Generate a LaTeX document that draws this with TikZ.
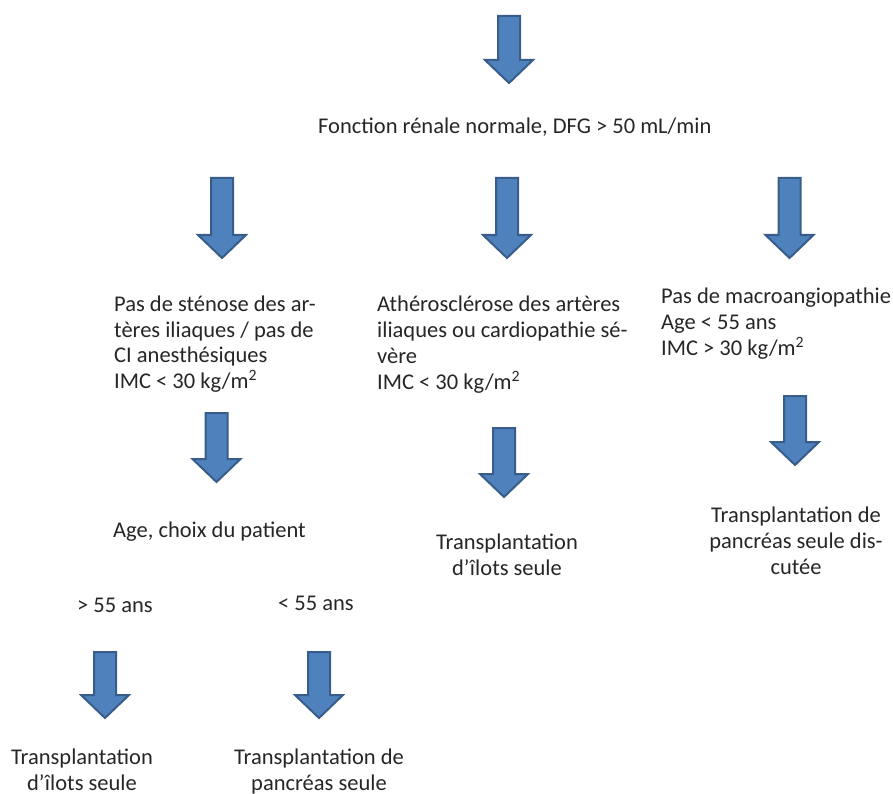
\documentclass[tikz,border=0pt]{standalone}
\usepackage{fontspec}
\setmainfont{Carlito}
\definecolor{arrowfill}{HTML}{4F81BD}
\definecolor{arrowline}{HTML}{385D8A}
\begin{document}
\begin{tikzpicture}[x=1pt,y=-1pt,
  txt/.style={inner sep=0pt,font=\fontsize{22.5}{25.7}\selectfont,text=black!85},
  blockarrow/.style={fill=arrowfill,draw=arrowline,line width=2pt,line join=miter},
  pics/darrow/.style={code={
    \path[blockarrow] (-11,0) -- (11,0) -- (11,#1-23) -- (24,#1-23) -- (0,#1)
      -- (-24,#1-23) -- (-11,#1-23) -- cycle;
  }}]
\useasboundingbox (0,0) rectangle (893,794);
% arrows
\pic (a0) at (509,16) {darrow=67};
\pic (a1) at (222,178) {darrow=80};
\pic (a2) at (507,178) {darrow=80};
\pic (a3) at (789.5,178) {darrow=80};
\pic (a4) at (216.5,413) {darrow=69};
\pic (a5) at (504,428) {darrow=69};
\pic (a6) at (795,396) {darrow=69};
\pic (a7) at (105,652) {darrow=66};
\pic (a8) at (319,652) {darrow=66};
% texts (anchor base = baseline of the last line)
\node[txt,anchor=base west] (t0) at (318,134) {Fonction rénale normale, DFG > 50 mL/min};
\node[txt,anchor=base west,align=left] (t1) at (114,388.5) {Pas de sténose des ar-\\tères iliaques / pas de\\CI anesthésiques\\IMC < 30 kg/m\textsuperscript{2}};
\node[txt,anchor=base west,align=left] (t2) at (377,389) {Athérosclérose des artères\\iliaques ou cardiopathie sé-\\vère\\IMC < 30 kg/m\textsuperscript{2}};
\node[txt,anchor=base west,align=left] (t3) at (661,355) {Pas de macroangiopathie\\Age < 55 ans\\IMC > 30 kg/m\textsuperscript{2}};
\node[txt,anchor=base west] (t4) at (113,537) {Age, choix du patient};
\node[txt,anchor=base west] (t5) at (77,612) {> 55 ans};
\node[txt,anchor=base west] (t6) at (278,610) {< 55 ans};
\node[txt,anchor=base,align=center] (t7) at (507,575) {Transplantation\\d’îlots seule};
\node[txt,anchor=base,align=center] (t8) at (796,574) {Transplantation de\\pancréas seule dis-\\cutée};
\node[txt,anchor=base,align=center] (t9) at (82,790) {Transplantation\\d’îlots seule};
\node[txt,anchor=base,align=center] (t10) at (319,790) {Transplantation de\\pancréas seule};
\end{tikzpicture}
\end{document}
